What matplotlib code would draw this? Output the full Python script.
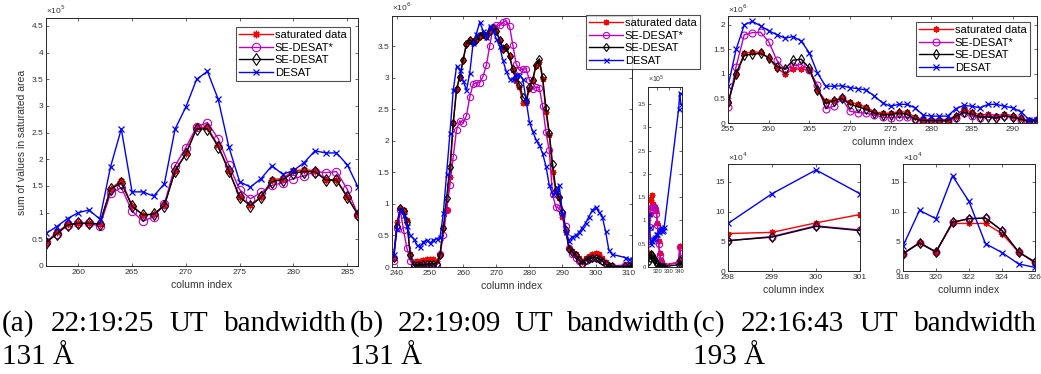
import numpy as np
import matplotlib
matplotlib.use("Agg")
import matplotlib.pyplot as plt
from matplotlib.ticker import FuncFormatter

W, H = 1041, 374

# ---------------- data ----------------
# panel (a), columns 257..286, values in units of 1e5
a_x = list(range(257, 287))
a_sat = [0.44, 0.63, 0.78, 0.80, 0.80, 0.79, 1.45, 1.60, 1.13, 0.96, 0.97, 1.14, 1.79, 2.11, 2.60,
         2.60, 2.26, 1.79, 1.30, 1.14, 1.30, 1.62, 1.64, 1.79, 1.80, 1.79, 1.62, 1.62, 1.30, 0.96]
a_sedesat_star = [0.45, 0.60, 0.77, 0.80, 0.80, 0.75, 1.36, 1.47, 1.03, 0.84, 0.92, 1.16, 1.88, 2.22, 2.61,
                  2.69, 2.39, 1.89, 1.43, 1.26, 1.38, 1.51, 1.56, 1.64, 1.69, 1.77, 1.75, 1.77, 1.44, 0.96]
a_sedesat = [0.44, 0.60, 0.77, 0.80, 0.80, 0.79, 1.44, 1.56, 1.12, 0.96, 0.97, 1.13, 1.78, 2.10, 2.57,
             2.57, 2.24, 1.78, 1.29, 1.13, 1.29, 1.58, 1.62, 1.75, 1.77, 1.77, 1.61, 1.61, 1.29, 0.96]
a_desat = [0.61, 0.74, 0.89, 1.00, 1.05, 0.88, 1.86, 2.57, 1.39, 1.39, 1.31, 1.54, 2.57, 2.98, 3.50,
           3.65, 3.13, 2.23, 1.58, 1.48, 1.64, 1.88, 1.72, 1.79, 1.94, 2.16, 2.12, 2.12, 1.90, 1.48]

# panel (b), values in units of 1e6
b_x = list(range(239, 306)) + [309, 310, 311]
b_sat = [0.15, 0.72, 0.93, 0.90, 0.74, 0.20, 0.08, 0.10, 0.10, 0.11, 0.12, 0.12, 0.12, 0.10,
         0.19, 0.62, 0.90, 1.42, 2.28, 2.82, 3.02, 3.29, 3.54, 3.60, 3.56, 3.60, 3.67, 3.70, 3.67,
         3.75, 3.79, 3.74, 3.60, 3.45, 3.49, 3.34, 3.12, 2.95, 2.85, 2.60, 2.60, 2.82, 2.95, 3.18,
         3.25, 2.98, 2.45, 2.10, 1.50, 1.20, 1.10, 0.80, 0.55, 0.30, 0.25, 0.20, 0.14, 0.08, 0.14,
         0.17, 0.20, 0.22, 0.20, 0.15, 0.08, 0.03, 0.01, 0.02, 0.02, 0.02]
b_sedesat_star = [0.10, 0.62, 0.90, 0.58, 0.30, 0.10, 0.02, 0.02, 0.02, 0.02, 0.02, 0.02, 0.02, 0.03,
                  0.20, 0.50, 0.90, 1.30, 1.75, 2.18, 2.32, 2.28, 2.40, 2.70, 2.90, 2.92, 2.92, 3.02,
                  3.20, 3.50, 3.80, 3.83, 3.83, 3.88, 3.90, 3.82, 3.52, 3.22, 3.12, 3.14, 3.14, 2.97,
                  2.82, 2.85, 2.84, 2.55, 2.14, 1.85, 1.15, 0.95, 0.93, 0.85, 0.65, 0.30, 0.20, 0.15,
                  0.10, 0.05, 0.10, 0.13, 0.15, 0.15, 0.13, 0.10, 0.04, 0.01, 0.02, 0.03, 0.03, 0.03]
b_sedesat = [0.15, 0.65, 0.93, 0.89, 0.72, 0.19, 0.03, 0.03, 0.03, 0.04, 0.04, 0.05, 0.05, 0.05,
             0.19, 0.62, 1.10, 1.59, 2.28, 2.82, 3.02, 3.29, 3.54, 3.60, 3.56, 3.60, 3.67, 3.70, 3.67,
             3.75, 3.79, 3.74, 3.60, 3.45, 3.49, 3.34, 3.14, 3.02, 2.89, 2.70, 2.64, 2.86, 2.97, 3.21,
             3.30, 3.01, 2.52, 2.13, 1.64, 1.22, 1.11, 0.87, 0.58, 0.29, 0.24, 0.19, 0.11, 0.05, 0.11,
             0.13, 0.15, 0.15, 0.13, 0.10, 0.04, 0.01, 0.01, 0.01, 0.01, 0.01]
b_desat = [0.20, 0.60, 0.90, 0.82, 0.65, 0.50, 0.45, 0.35, 0.32, 0.40, 0.43, 0.38, 0.43, 0.45,
           0.47, 0.85, 1.48, 2.12, 2.80, 3.18, 3.12, 2.95, 2.80, 3.08, 3.55, 3.70, 3.88, 3.75, 3.65,
           3.82, 3.75, 3.62, 3.50, 3.28, 3.10, 2.98, 2.98, 3.05, 3.05, 2.98, 2.65, 2.30, 2.15, 2.02,
           1.93, 1.80, 1.60, 1.30, 1.15, 1.20, 1.30, 0.85, 0.55, 0.42, 0.48, 0.50, 0.55, 0.62, 0.70,
           0.80, 0.90, 0.95, 0.87, 0.80, 0.57, 0.27, 0.20, 0.15, 0.12, 0.12]

# panel (b) inset, values in units of 1e5
bi_x = list(range(312, 327)) + [339, 340, 341]
bi_sat = [0.30, 1.15, 1.45, 1.55, 1.35, 1.30, 1.30, 1.20, 0.95, 0.55, 0.30, 0.15, 0.08, 0.05, 0.05,
          0.10, 0.45, 0.10]
bi_sedesat_star = [0.55, 0.85, 1.20, 1.30, 1.30, 1.28, 1.25, 1.15, 0.90, 0.50, 0.25, 0.10, 0.04, 0.03,
                   0.03, 0.10, 0.42, 0.20]
bi_sedesat = [0.12, 0.20, 0.27, 0.25, 0.22, 0.18, 0.14, 0.10, 0.06, 0.03, 0.01, 0.01, 0.01, 0.01,
              0.01, 0.05, 0.15, 0.05]
bi_desat = [1.15, 0.86, 0.50, 0.55, 0.60, 0.62, 0.65, 0.70, 0.72, 0.75, 0.80, 0.85, 0.78, 0.80,
            0.85, 3.40, 3.75, 3.50]

# panel (c) top, values in units of 1e6
c_x = list(range(255, 294))
c_sat = [0.40, 1.00, 1.42, 1.45, 1.44, 1.33, 1.12, 1.00, 1.10, 1.10, 1.08, 0.68, 0.45, 0.47, 0.50,
         0.42, 0.38, 0.32, 0.23, 0.20, 0.20, 0.23, 0.22, 0.12, 0.07, 0.07, 0.07, 0.07, 0.15, 0.28,
         0.22, 0.16, 0.18, 0.15, 0.18, 0.15, 0.10, 0.05, 0.07]
c_sedesat_star = [0.33, 1.15, 1.80, 1.84, 1.85, 1.66, 1.28, 1.09, 1.17, 1.19, 1.08, 0.77, 0.29, 0.34,
                  0.50, 0.24, 0.21, 0.20, 0.16, 0.12, 0.11, 0.12, 0.12, 0.09, 0.04, 0.04, 0.04, 0.04,
                  0.11, 0.20, 0.14, 0.11, 0.14, 0.12, 0.14, 0.12, 0.07, 0.04, 0.07]
c_sedesat = [0.42, 1.00, 1.38, 1.40, 1.42, 1.33, 1.15, 1.10, 1.28, 1.30, 1.12, 0.68, 0.40, 0.45, 0.50,
             0.38, 0.33, 0.28, 0.20, 0.17, 0.17, 0.20, 0.18, 0.08, 0.05, 0.05, 0.05, 0.05, 0.13, 0.22,
             0.18, 0.12, 0.12, 0.10, 0.15, 0.12, 0.08, 0.03, 0.05]
c_desat = [0.75, 1.50, 2.00, 2.07, 1.98, 1.88, 1.80, 1.73, 1.76, 1.67, 1.43, 1.02, 0.75, 0.75, 0.76,
           0.72, 0.70, 0.67, 0.55, 0.41, 0.34, 0.38, 0.38, 0.31, 0.16, 0.14, 0.14, 0.14, 0.29, 0.36,
           0.34, 0.31, 0.38, 0.38, 0.34, 0.31, 0.23, 0.07, 0.07]

# panel (c) bottom left / right, values in units of 1e4
cl_x = [298, 299, 300, 301]
cl_sat = [6.3, 6.5, 8.1, 9.5]
cl_sedesat_star = [5.1, 5.8, 7.6, 6.9]
cl_sedesat = [5.1, 5.7, 7.5, 6.8]
cl_desat = [8.0, 13.0, 17.0, 13.0]

cr_x = list(range(318, 327))
cr_sat = [2.9, 4.8, 3.2, 8.0, 8.0, 8.0, 6.3, 3.2, 1.4]
cr_sedesat_star = [2.9, 4.7, 3.2, 8.2, 8.8, 8.9, 6.8, 3.2, 1.5]
cr_sedesat = [2.9, 4.7, 3.2, 8.2, 8.8, 8.9, 6.8, 3.2, 1.5]
cr_desat = [4.2, 10.2, 8.8, 16.0, 11.7, 4.6, 3.1, 1.2, 0.6]

labels = ["saturated data", "SE-DESAT*", "SE-DESAT", "DESAT"]
captions = [("(a) 22:19:25 UT bandwidth", "131 Å"),
            ("(b) 22:19:09 UT bandwidth", "131 Å"),
            ("(c) 22:16:43 UT bandwidth", "193 Å")]

# ---------------- style ----------------
plt.rcParams["font.family"] = ["Liberation Sans", "DejaVu Sans"]
GRAY = "#333333"
fig = plt.figure(figsize=(W / 100, H / 100), dpi=100)


def px_axes(l, t, r, b):
    return fig.add_axes([l / W, 1 - b / H, (r - l) / W, (b - t) / H])


def fmt(v, pos):
    return "%g" % round(v, 6)


def style(ax, fs=6):
    for s in ax.spines.values():
        s.set_color("#262626")
        s.set_linewidth(0.7)
    ax.tick_params(direction="in", top=True, right=True, length=2.5, width=0.5,
                   labelsize=fs, colors="#262626", labelcolor=GRAY, pad=2)
    ax.yaxis.set_major_formatter(FuncFormatter(fmt))


def draw(ax, x, sat, sstar, sdes, des, ms=5):
    ax.plot(x, sat, "-", color="r", marker=(8, 2, 0), ms=ms * 0.9, mew=0.9, lw=1)
    ax.plot(x, sstar, "-", color="m", marker="o", ms=ms, mfc="none", mew=0.8, lw=1)
    ax.plot(x, sdes, "-", color="k", marker="d", ms=ms, mfc="none", mew=0.8, lw=1)
    ax.plot(x, des, "-", color="b", marker="x", ms=ms * 0.8, mew=0.9, lw=1)


def legend(ax, l, t):
    leg = ax.legend(labels, loc="upper left", bbox_to_anchor=(l / W, 1 - t / H),
                    bbox_transform=fig.transFigure, fontsize=8, frameon=True,
                    fancybox=False, edgecolor="#262626", handlelength=3.0,
                    borderpad=0.3, labelspacing=0.22, handletextpad=0.2, borderaxespad=0)
    leg.get_frame().set_linewidth(0.8)
    return leg


def scale_text(ax, p, fs=6):
    ax.text(0.0, 1.01, "×10$^{%d}$" % p, transform=ax.transAxes, fontsize=fs,
            color=GRAY, ha="left", va="bottom")


# panel (a)
ax = px_axes(46, 18, 358, 266)
draw(ax, a_x, a_sat, a_sedesat_star, a_sedesat, a_desat, ms=6)
ax.set_xlim(257, 286)
ax.set_ylim(0, 4.65)
ax.set_xticks(np.arange(260, 286, 5))
ax.set_yticks(np.arange(0, 4.6, 0.5))
style(ax)
scale_text(ax, 5)
ax.set_xlabel("column index", fontsize=7.5, color=GRAY, labelpad=3)
ax.set_ylabel("sum of values in saturated area", fontsize=7.5, color=GRAY, labelpad=3)
legend(ax, 236, 27)

# panel (b)
ax = px_axes(392, 16, 632, 267)
draw(ax, b_x, b_sat, b_sedesat_star, b_sedesat, b_desat, ms=4.5)
ax.set_xlim(238.5, 311)
ax.set_ylim(0, 3.98)
ax.set_xticks(np.arange(240, 311, 10))
ax.set_yticks(np.arange(0, 3.6, 0.5))
style(ax)
scale_text(ax, 6)
ax.set_xlabel("column index", fontsize=7.5, color=GRAY, labelpad=3)
legend(ax, 586, 15)

# panel (b) inset
ax = px_axes(648, 87, 682, 267)
draw(ax, bi_x, bi_sat, bi_sedesat_star, bi_sedesat, bi_desat, ms=4.5)
ax.set_xlim(311.5, 342)
ax.set_ylim(0, 3.87)
ax.set_xticks([320, 330, 340])
ax.set_yticks(np.arange(0, 3.6, 0.5))
style(ax, fs=4.2)
ax.tick_params(length=2, pad=1.5)
scale_text(ax, 5, fs=5)

# panel (c) top
ax = px_axes(728, 16, 1037, 123)
draw(ax, c_x, c_sat, c_sedesat_star, c_sedesat, c_desat, ms=5)
ax.set_xlim(255, 293)
ax.set_ylim(0, 2.18)
ax.set_xticks(np.arange(255, 291, 5))
ax.set_yticks(np.arange(0, 2.1, 0.5))
style(ax)
scale_text(ax, 6)
ax.set_xlabel("column index", fontsize=7.5, color=GRAY, labelpad=3)
legend(ax, 916, 22)

# panel (c) bottom left
ax = px_axes(728, 164, 860, 271)
draw(ax, cl_x, cl_sat, cl_sedesat_star, cl_sedesat, cl_desat, ms=5)
ax.set_xlim(298, 301)
ax.set_ylim(0, 18)
ax.set_xticks(cl_x)
ax.set_yticks([0, 5, 10, 15])
style(ax)
scale_text(ax, 4)
ax.set_xlabel("column index", fontsize=7.5, color=GRAY, labelpad=3)

# panel (c) bottom right
ax = px_axes(903, 164, 1035, 271)
draw(ax, cr_x, cr_sat, cr_sedesat_star, cr_sedesat, cr_desat, ms=5)
ax.set_xlim(318, 326)
ax.set_ylim(0, 18)
ax.set_xticks(np.arange(318, 327, 2))
ax.set_yticks([0, 5, 10, 15])
style(ax)
scale_text(ax, 4)
ax.set_xlabel("column index", fontsize=7.5, color=GRAY, labelpad=3)

# captions (justified first line)
renderer = fig.canvas.get_renderer()
cols = [(2, 347), (350, 690), (693, 1037)]
cap_font = dict(family=["Liberation Serif", "DejaVu Serif"], fontsize=21, color="black")
for (l, r), (line1, line2) in zip(cols, captions):
    words = line1.split()
    texts = [fig.text(0, 0, w, va="baseline", ha="left", **cap_font) for w in words]
    widths = [t.get_window_extent(renderer).width for t in texts]
    gap = (r - l - sum(widths)) / (len(words) - 1)
    x = l
    for t, w in zip(texts, widths):
        t.set_position((x / W, 1 - 331 / H))
        x += w + gap
    fig.text(l / W, 1 - 364 / H, line2, va="baseline", ha="left", **cap_font)

fig.savefig("out.png", dpi=100)
